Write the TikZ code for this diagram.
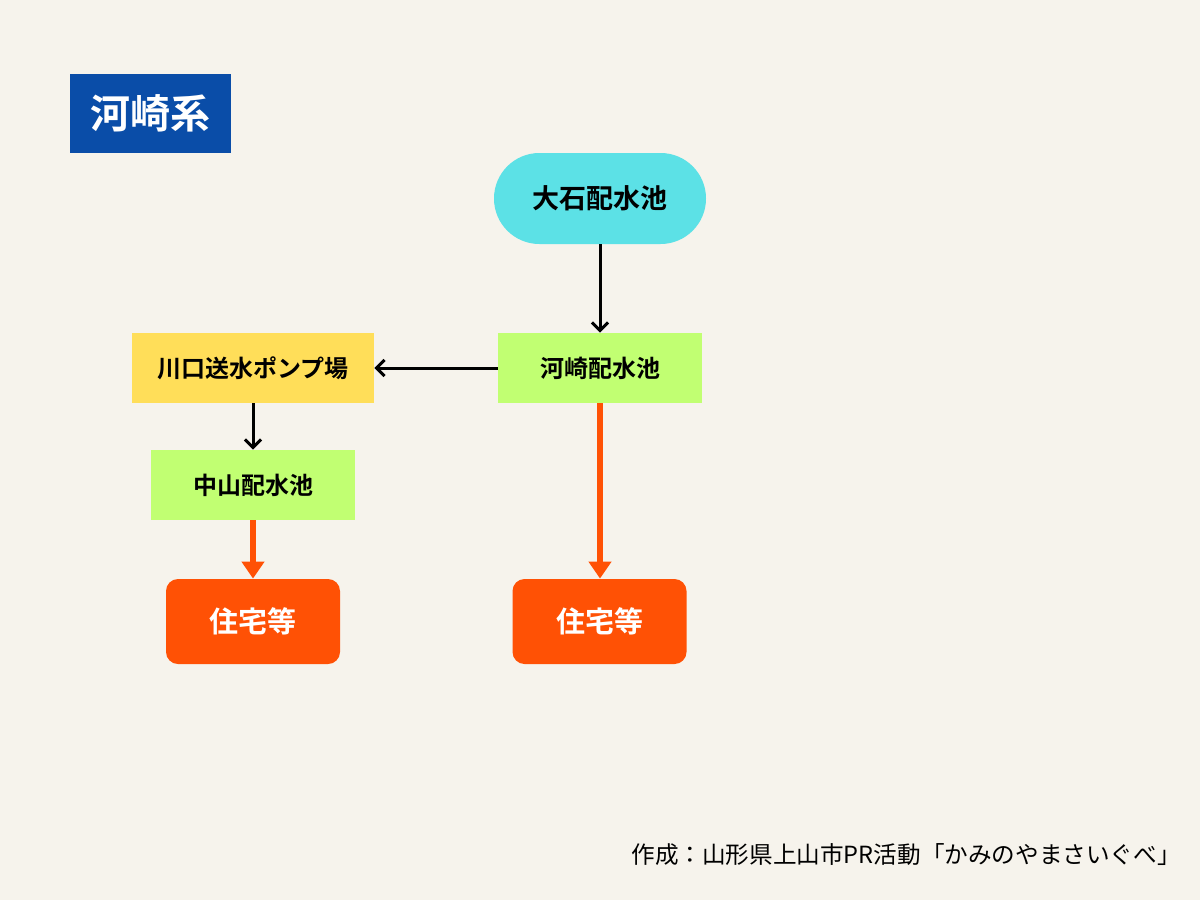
\documentclass[tikz,border=0pt]{standalone}
\usepackage{fontspec}
\setmainfont{Noto Sans CJK JP}[BoldFont={Noto Sans CJK JP Bold}]
\usetikzlibrary{arrows.meta}
\definecolor{bg}{HTML}{F6F3EC}
\definecolor{titleblue}{HTML}{0A4DA8}
\definecolor{cyanfill}{HTML}{5CE1E6}
\definecolor{greenfill}{HTML}{C1FF72}
\definecolor{yellowfill}{HTML}{FFDE59}
\definecolor{orangefill}{HTML}{FF5105}
\tikzset{
  box/.style={inner sep=0pt, minimum height=35pt, font=\fontsize{12}{14}\selectfont\bfseries, text=black},
  greenbox/.style={box, fill=greenfill},
  yellowbox/.style={box, fill=yellowfill},
  pill/.style={fill=cyanfill, inner sep=0pt, minimum width=106pt, minimum height=45.5pt, rounded corners=22.7pt, font=\fontsize{13.5}{16}\selectfont\bfseries},
  housebox/.style={fill=orangefill, inner sep=0pt, minimum width=87pt, minimum height=42.5pt, rounded corners=6pt, text=white, font=\fontsize{14.5}{17}\selectfont\bfseries},
  titlebox/.style={fill=titleblue, inner sep=0pt, minimum width=80.5pt, minimum height=39.5pt, text=white, font=\fontsize{20}{24}\selectfont\bfseries},
  blackarrow/.style={draw=black, line width=1.5pt, -{Straight Barb[length=4pt, width=8pt, line width=1.5pt]}},
  orangearrow/.style={draw=orangefill, line width=2.6pt, -{Triangle[length=8.5pt, width=11pt]}},
}
\begin{document}
\begin{tikzpicture}[x=0.5pt, y=-0.5pt]
\fill[bg] (0,0) rectangle (1200,900);
\useasboundingbox (0,0) rectangle (1200,900);
\node[titlebox] (title) at (150.5,113.5) {河崎系};
\node[pill] (oishi) at (600,198.5) {大石配水池};
\node[greenbox, minimum width=102pt] (kawasaki) at (600,368) {河崎配水池};
\node[yellowbox, minimum width=121pt] (kawaguchi) at (253,368) {川口送水ポンプ場};
\node[greenbox, minimum width=102pt] (nakayama) at (253,485) {中山配水池};
\node[housebox] (houseL) at (253,621.5) {住宅等};
\node[housebox] (houseR) at (599.5,621.5) {住宅等};
\node[anchor=east, inner sep=0pt, font=\fontsize{11.8}{14}\selectfont] (credit) at (1181,855) {作成：山形県上山市PR活動「かみのやまさいぐべ」};
\draw[blackarrow] (oishi.south) -- (kawasaki.north);
\draw[blackarrow] (kawasaki.west) -- (kawaguchi.east);
\draw[blackarrow] (kawaguchi.south) -- (nakayama.north);
\draw[orangearrow] (nakayama.south) -- (houseL.north);
\draw[orangearrow] (kawasaki.south) -- (kawasaki.south |- houseR.north);
\end{tikzpicture}
\end{document}
